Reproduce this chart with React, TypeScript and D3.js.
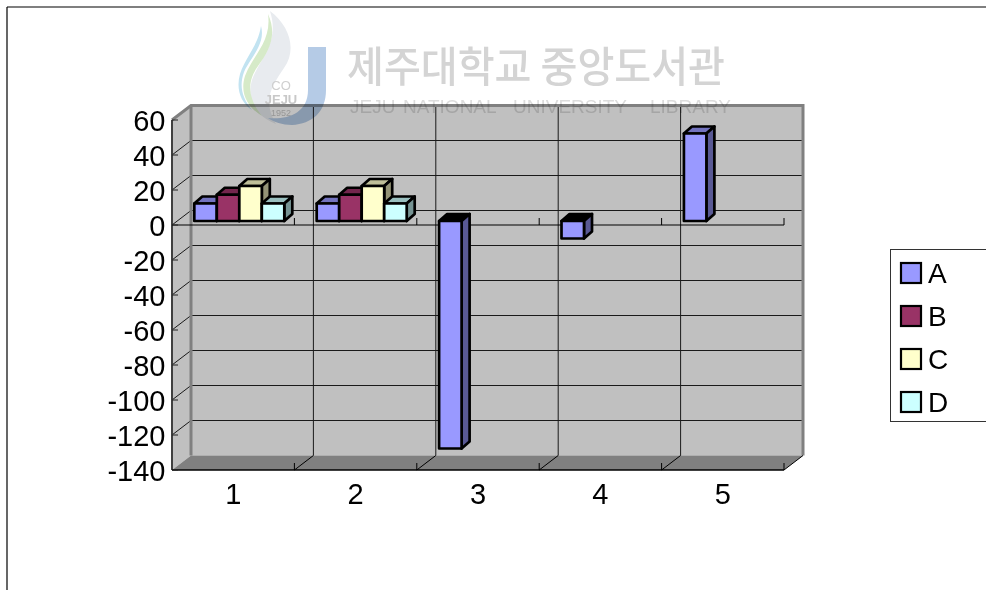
import React from "react";
import * as d3 from "d3";

// Series values by category; null means the series has no bar there.
const categories = ["1", "2", "3", "4", "5"];
const seriesNames = ["A", "B", "C", "D"];
const seriesA = [10, 10, -130, -10, 50];
const seriesB: (number | null)[] = [15, 15, null, null, null];
const seriesC: (number | null)[] = [20, 20, null, null, null];
const seriesD: (number | null)[] = [10, 10, null, null, null];
const seriesColors = ["#9999ff", "#993366", "#ffffcc", "#ccffff"];
const yTicks = [60, 40, 20, 0, -20, -40, -60, -80, -100, -120, -140];
const footerWords: [string, number][] = [
  ["JEJU", 350],
  ["NATIONAL", 403],
  ["UNIVERSITY", 513],
  ["LIBRARY", 650],
];

const FONT = "'Liberation Sans', Arial, sans-serif";
const DEPTH_X = 19;
const DEPTH_Y = -14.5;

const y = d3.scaleLinear().domain([60, -140]).range([120, 470]);
const x = d3.scaleBand().domain(categories).range([172, 784]);

const BAR_W = 22.5;
const BAR_DX = 8;
const BAR_DY = -7;
const BAR_SHIFT_X = 6.1;
const BAR_SHIFT_Y = -4;

function shade(color: string, k: number) {
  const c = d3.rgb(color);
  return d3.rgb(c.r * k, c.g * k, c.b * k).formatHex();
}

function Bar({ cat, s, v }: { cat: string; s: number; v: number }) {
  const groupW = BAR_W * seriesNames.length;
  const x0 = (x(cat) as number) + (x.bandwidth() - groupW) / 2 + BAR_SHIFT_X + s * BAR_W;
  const x1 = x0 + BAR_W;
  const yBase = y(0) + BAR_SHIFT_Y;
  const yVal = y(v) + BAR_SHIFT_Y;
  const top = Math.min(yBase, yVal);
  const bottom = Math.max(yBase, yVal);
  const color = seriesColors[s];
  const line = { stroke: "#000", strokeWidth: 2.7, strokeLinejoin: "round" as const };
  return (
    <g>
      <polygon
        points={`${x0},${top} ${x0 + BAR_DX},${top + BAR_DY} ${x1 + BAR_DX},${top + BAR_DY} ${x1},${top}`}
        fill={v < 0 ? "#000" : shade(color, 0.75)}
        {...line}
      />
      <polygon
        points={`${x1},${top} ${x1 + BAR_DX},${top + BAR_DY} ${x1 + BAR_DX},${bottom + BAR_DY} ${x1},${bottom}`}
        fill={shade(color, 0.58)}
        {...line}
      />
      <rect x={x0} y={top} width={BAR_W} height={bottom - top} fill={color} {...line} />
    </g>
  );
}

function LibraryMark() {
  return (
    <g style={{ mixBlendMode: "multiply" }} filter="url(#soft)">
      <path d="M270 11 C290 26 297 50 284 68 C272 86 262 100 276 124 C256 116 246 100 252 80 C260 58 280 42 270 11Z" fill="#e8ebef" />
      <path d="M268 14 C278 36 268 52 258 66 C248 80 246 96 262 116 C246 106 240 92 245 76 C252 56 272 42 268 14Z" fill="#d6eac8" />
      <path d="M261 26 C266 44 250 58 244 72 C239 86 242 98 252 110 C240 102 236 88 240 74 C245 58 258 46 261 26Z" fill="#c2e3f1" />
      <path d="M308 47 H326 V90 C326 112 312 124 292 125 C282 125 274 122 268 118 C286 120 308 114 308 90Z" fill="#b5cbe6" />
      <text x={281} y={90} fontFamily={FONT} fontSize={13} fill="#cfcfcf" textAnchor="middle">CO</text>
      <text x={281} y={104} fontFamily={FONT} fontSize={13} fontWeight="bold" fill="#c8c8c8" textAnchor="middle">JEJU</text>
      <text x={281} y={116} fontFamily={FONT} fontSize={9} fill="#c8c8c8" textAnchor="middle">1952</text>
      <text x={347} y={82} fontFamily="'Noto Sans CJK KR'" fontSize={42} fontWeight={500} fill="#d4d4d4" textLength={378} lengthAdjust="spacingAndGlyphs">
        제주대학교 중앙도서관
      </text>
      {footerWords.map(([word, px]) => (
        <text key={word} x={px} y={113} fontFamily={FONT} fontSize={19} fill="#dcdcdc">
          {word}
        </text>
      ))}
    </g>
  );
}

export default function App() {
  const seriesRows = [seriesA, seriesB, seriesC, seriesD];
  const bandEdges = [...categories.map((c) => x(c) as number), x.range()[1]];
  const bw = x.bandwidth();
  const [left, right] = x.range();
  const yTop = y(60);
  const yBottom = y(-140);
  const legendY = d3.scalePoint().domain(seriesNames).range([273, 402]);

  return (
    <svg width={986} height={590} style={{ position: "absolute", left: 0, top: 0, display: "block", background: "#fff" }}>
      <defs>
        <filter id="soft" x="-5%" y="-5%" width="110%" height="110%">
          <feGaussianBlur stdDeviation="0.7" />
        </filter>
      </defs>

      {/* outer frame: only the top and left edges fall inside the view */}
      <line x1={7} y1={7} x2={986} y2={7} stroke="#000" strokeWidth={1.2} />
      <line x1={7} y1={7} x2={7} y2={590} stroke="#000" strokeWidth={1.2} />

      {/* back and side walls, floor */}
      <polygon
        points={`${left},${yTop} ${left + DEPTH_X},${yTop + DEPTH_Y} ${left + DEPTH_X},${yBottom + DEPTH_Y} ${left},${yBottom}`}
        fill="#c0c0c0"
      />
      <rect x={left + DEPTH_X} y={yTop + DEPTH_Y} width={right - left} height={yBottom - yTop} fill="#c0c0c0" />
      <polygon
        points={`${left},${yBottom} ${left + DEPTH_X},${yBottom + DEPTH_Y} ${right + DEPTH_X},${yBottom + DEPTH_Y} ${right},${yBottom}`}
        fill="#808080"
      />

      {/* value gridlines wrap from the side wall onto the back wall */}
      {yTicks.slice(1, -1).map((t) => (
        <polyline
          key={t}
          points={`${left},${y(t)} ${left + DEPTH_X},${y(t) + DEPTH_Y} ${right + DEPTH_X},${y(t) + DEPTH_Y}`}
          fill="none"
          stroke="#1a1a1a"
          strokeWidth={1}
        />
      ))}
      {bandEdges.slice(1, -1).map((e) => (
        <line key={e} x1={e + DEPTH_X} y1={yTop + DEPTH_Y} x2={e + DEPTH_X} y2={yBottom + DEPTH_Y} stroke="#1a1a1a" strokeWidth={1} />
      ))}

      {/* wall outlines */}
      <polyline
        points={`${left},${yTop} ${left + DEPTH_X},${yTop + DEPTH_Y} ${right + DEPTH_X},${yTop + DEPTH_Y} ${right + DEPTH_X},${yBottom + DEPTH_Y}`}
        fill="none"
        stroke="#808080"
        strokeWidth={3}
      />
      <line x1={left + DEPTH_X} y1={yTop + DEPTH_Y} x2={left + DEPTH_X} y2={yBottom + DEPTH_Y} stroke="#808080" strokeWidth={3} />
      <line x1={left} y1={yTop} x2={left} y2={yBottom} stroke="#404040" strokeWidth={2} />

      {/* category axis at zero and its ticks */}
      <line x1={left} y1={y(0)} x2={right} y2={y(0)} stroke="#000" strokeWidth={1.2} />
      {bandEdges.slice(1).map((e) => (
        <line key={e} x1={e} y1={y(0)} x2={e} y2={y(0) - 7} stroke="#000" strokeWidth={1} />
      ))}

      {/* floor edge with its ticks */}
      <line x1={left} y1={yBottom} x2={right} y2={yBottom} stroke="#000" strokeWidth={1.4} />
      {bandEdges.slice(1).map((e) => (
        <g key={e} stroke="#000" strokeWidth={1} fill="none">
          <line x1={e} y1={yBottom} x2={e + DEPTH_X} y2={yBottom + DEPTH_Y} />
          <line x1={e} y1={yBottom} x2={e} y2={yBottom - 7} />
        </g>
      ))}

      {/* value axis ticks and labels */}
      {yTicks.map((t) => (
        <g key={t}>
          <line x1={left} y1={y(t)} x2={left + 6} y2={y(t)} stroke="#222" strokeWidth={1} />
          <text x={165.5} y={y(t) + 10.5} textAnchor="end" fontFamily={FONT} fontSize={29} fill="#000">
            {t}
          </text>
        </g>
      ))}

      {/* bars, back to front within each category */}
      {categories.map((c, i) =>
        seriesRows.map((row, s) => {
          const v = row[i];
          return v === null ? null : <Bar key={`${c}-${s}`} cat={c} s={s} v={v} />;
        })
      )}

      {categories.map((c) => (
        <text key={c} x={(x(c) as number) + bw / 2} y={503.5} textAnchor="middle" fontFamily={FONT} fontSize={29} fill="#000">
          {c}
        </text>
      ))}

      {/* legend */}
      <rect x={890.5} y={249.5} width={110} height={172} fill="#fff" stroke="#333" strokeWidth={1} />
      {seriesNames.map((n, i) => (
        <g key={n}>
          <rect x={901} y={(legendY(n) as number) - 10} width={20} height={20} fill={seriesColors[i]} stroke="#000" strokeWidth={2.2} />
          <text x={928} y={(legendY(n) as number) + 10} fontFamily={FONT} fontSize={28} fill="#000">
            {n}
          </text>
        </g>
      ))}

      <LibraryMark />
    </svg>
  );
}
